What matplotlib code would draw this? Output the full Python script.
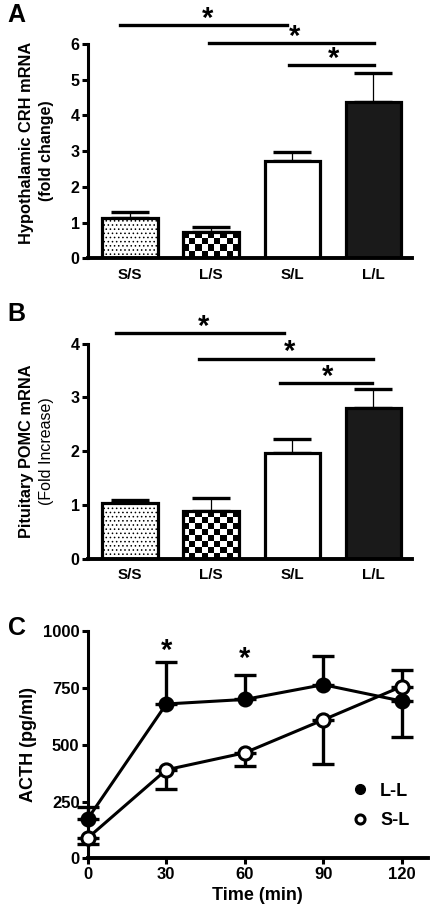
import numpy as np
import matplotlib.pyplot as plt

plt.rcParams['font.family'] = ['Liberation Sans', 'DejaVu Sans']
plt.rcParams['font.weight'] = 'bold'
plt.rcParams['axes.labelweight'] = 'bold'
plt.rcParams['hatch.linewidth'] = 0.6

# data
groups = ["S/S", "L/S", "S/L", "L/L"]
crh_mean = [1.13, 0.73, 2.72, 4.37]
crh_sem = [0.17, 0.15, 0.26, 0.83]
pomc_mean = [1.03, 0.88, 1.96, 2.81]
pomc_sem = [0.07, 0.25, 0.27, 0.34]

time_min = [0, 30, 60, 90, 120]
acth_ll = [175, 680, 700, 765, 693]
acth_ll_lo = [0, 0, 0, 0, 158]
acth_ll_hi = [52, 185, 108, 128, 0]
acth_sl = [90, 390, 465, 610, 757]
acth_sl_lo = [26, 85, 60, 195, 0]
acth_sl_hi = [0, 0, 0, 0, 71]

# significance brackets (from, to, height)
crh_sig = [(-0.12, 1.94, 6.53), (0.975, 3.01, 6.03), (1.96, 3.01, 5.41)]
pomc_sig = [(-0.17, 1.9, 4.19), (0.85, 3.0, 3.72), (1.85, 2.99, 3.27)]
acth_sig = [(30, 913), (60, 880)]

fig = plt.figure(figsize=(4.37, 9.19), dpi=100)


def checker_fill(ax, bar):
    x0, y0 = bar.get_x(), bar.get_y()
    w, h = bar.get_width(), bar.get_height()
    ncol = 9
    # square cells on screen
    p0 = ax.transData.transform((x0, y0))
    p1 = ax.transData.transform((x0 + w, y0 + h))
    cell_px = (p1[0] - p0[0]) / ncol
    nrow = max(1, int(round((p1[1] - p0[1]) / cell_px)))
    board = np.indices((nrow, ncol)).sum(axis=0) % 2
    im = ax.imshow(board, cmap='gray', extent=(x0, x0 + w, y0, y0 + h),
                   aspect='auto', interpolation='nearest', zorder=1.8)
    im.set_clip_path(bar)


def bar_panel(ax, means, sems, ymax, lab1, lab2, w2, lab_y, sig, letter, letter_y):
    x = np.arange(len(groups))
    bars = ax.bar(x, means, width=0.68, color='white', edgecolor='black',
                  linewidth=2.3, zorder=2)
    bars[0].set_hatch('....')
    bars[1].set_facecolor('none')
    bars[3].set_facecolor('#1a1a1a')
    ax.errorbar(x, means, yerr=[np.zeros(len(x)), sems], fmt='none',
                ecolor='black', elinewidth=0.9, capsize=14, capthick=2.4,
                zorder=1)
    ax.set_xlim(-0.52, 3.48)
    ax.set_ylim(0, ymax)
    fig.canvas.draw()
    checker_fill(ax, bars[1])
    ax.set_xlim(-0.52, 3.48)
    ax.set_ylim(0, ymax)
    ax.set_xticks(x)
    ax.set_xticklabels(groups, fontsize=11, fontweight='bold')
    ax.set_yticks(np.arange(0, ymax + 1))
    ax.tick_params(axis='x', length=0, pad=7)
    ax.tick_params(axis='y', length=4, width=2.2, labelsize=11.5, pad=2)
    for s in ['top', 'right']:
        ax.spines[s].set_visible(False)
    ax.spines['left'].set_linewidth(2.2)
    ax.spines['bottom'].set_linewidth(2.8)
    ax.text(-0.19, lab_y, lab1, transform=ax.transAxes, rotation=90,
            ha='center', va='center', fontsize=11.8, fontweight='bold')
    ax.text(-0.128, 0.5, lab2, transform=ax.transAxes, rotation=90,
            ha='center', va='center', fontsize=11.5, fontweight=w2)
    for a, b, h in sig:
        ax.plot([a, b], [h, h], color='black', lw=2.4, clip_on=False)
        ax.text((a + b) / 2 + 0.02 * (b - a), h - 0.035 * ymax, '*',
                ha='center', va='bottom', fontsize=21, fontweight='bold')
    fig.text(0.018, letter_y, letter, fontsize=18, fontweight='bold',
             va='center')


ax_a = fig.add_axes([0.201, 0.719, 0.742, 0.233])
bar_panel(ax_a, crh_mean, crh_sem, 6, "Hypothalamic CRH mRNA",
          "(fold change)", 'bold', 0.54, crh_sig, "A", 0.984)

ax_b = fig.add_axes([0.201, 0.392, 0.742, 0.234])
bar_panel(ax_b, pomc_mean, pomc_sem, 4, "Pituitary POMC mRNA",
          "(Fold Increase)", 'normal', 0.5, pomc_sig, "B", 0.658)

# panel C
ax_c = fig.add_axes([0.201, 0.066, 0.778, 0.247])
t = np.array(time_min)
for vals, lo, hi in [(acth_ll, acth_ll_lo, acth_ll_hi),
                     (acth_sl, acth_sl_lo, acth_sl_hi)]:
    vals = np.array(vals)
    lo = np.array(lo)
    hi = np.array(hi)
    up = hi > 0
    dn = lo > 0
    ax_c.errorbar(t[up], vals[up], yerr=[np.zeros(up.sum()), hi[up]],
                  fmt='none', ecolor='black', elinewidth=2.4, capsize=8,
                  capthick=2.4, zorder=2, clip_on=False)
    ax_c.errorbar(t[dn], vals[dn], yerr=[lo[dn], np.zeros(dn.sum())],
                  fmt='none', ecolor='black', elinewidth=2.4, capsize=8,
                  capthick=2.4, zorder=2, clip_on=False)
ax_c.plot(t, acth_ll, '-o', color='black', lw=2.2, ms=9.5, mfc='black',
          mec='black', mew=2, zorder=3, clip_on=False)
ax_c.plot(t, acth_sl, '-o', color='black', lw=2.2, ms=9.5, mfc='white',
          mec='black', mew=2.2, zorder=3, clip_on=False)
ax_c.plot([], [], 'o', color='black', ms=7, label='L-L')
ax_c.plot([], [], 'o', color='black', mfc='white', mew=2.2, ms=6.5, label='S-L')
for tx, ty in acth_sig:
    ax_c.text(tx, ty, '*', ha='center', va='center', fontsize=21,
              fontweight='bold')
ax_c.set_xlim(0, 130)
ax_c.set_ylim(0, 1000)
ax_c.set_xticks(time_min)
ax_c.set_yticks([0, 250, 500, 750, 1000])
ax_c.tick_params(length=4, width=2.2, labelsize=12, pad=2)
for s in ['top', 'right']:
    ax_c.spines[s].set_visible(False)
ax_c.spines['left'].set_linewidth(2.2)
ax_c.spines['bottom'].set_linewidth(2.8)
ax_c.set_xlabel("Time (min)", fontsize=13, labelpad=4)
ax_c.set_ylabel("ACTH (pg/ml)", fontsize=13, labelpad=4)
leg = ax_c.legend(loc='center', bbox_to_anchor=(0.86, 0.23), frameon=False,
                  fontsize=13, handletextpad=0.6, labelspacing=0.7,
                  handlelength=1.0, borderpad=0)
fig.text(0.018, 0.317, "C", fontsize=18, fontweight='bold', va='center')

fig.savefig("out.png", dpi=100)
